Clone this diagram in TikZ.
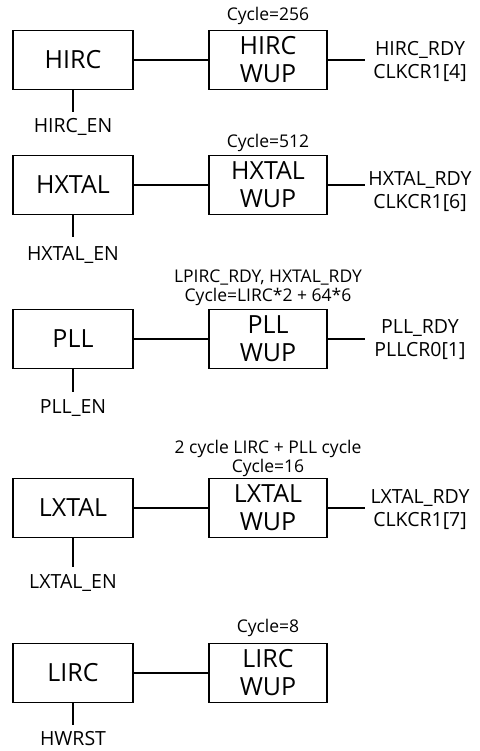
\documentclass[tikz,border=0pt]{standalone}
\usepackage{fontspec}
\setmainfont{Open Sans}
\usetikzlibrary{positioning}
\begin{document}
\begin{tikzpicture}[x=1pt,y=-1pt,
  every node/.style={inner sep=0pt},
  src/.style={draw,line width=1.4pt,minimum width=120pt,minimum height=59pt,
              font=\fontsize{25}{28}\selectfont},
  wup/.style={src,minimum width=118pt,align=center},
  lbl/.style={font=\fontsize{19.5}{23}\selectfont,align=center},
  cyc/.style={font=\fontsize{17.5}{19}\selectfont,align=center},
  wire/.style={line width=1.4pt},
]
\useasboundingbox (0,0) rectangle (479,751);
% HIRC row
\node[src] (hirc) at (73,60) {HIRC};
\node[wup] (hircw) at (268,60) {HIRC\\WUP};
\node[cyc] (hircc) at (268,16) {Cycle=256};
\coordinate (hircr) at (365,60);
\node[lbl] (hircrdy) at (420,61) {HIRC\_RDY\\CLKCR1[4]};
\coordinate (hirce) at (73,112);
\node[lbl] (hircen) at (73,127) {HIRC\_EN};
\draw[wire] (hirc) -- (hircw);
\draw[wire] (hircw) -- (hircr);
\draw[wire] (hirc) -- (hirce);
% HXTAL row
\node[src] (hxtal) at (73,185) {HXTAL};
\node[wup] (hxtalw) at (268,185) {HXTAL\\WUP};
\node[cyc] (hxtalc) at (268,143) {Cycle=512};
\coordinate (hxtalr) at (365,185);
\node[lbl] (hxtalrdy) at (420,192) {HXTAL\_RDY\\CLKCR1[6]};
\coordinate (hxtale) at (73,237);
\node[lbl] (hxtalen) at (73,255) {HXTAL\_EN};
\draw[wire] (hxtal) -- (hxtalw);
\draw[wire] (hxtalw) -- (hxtalr);
\draw[wire] (hxtal) -- (hxtale);
% PLL row
\node[src] (pll) at (73,339) {PLL};
\node[wup] (pllw) at (268,339) {PLL\\WUP};
\node[cyc] (pllc) at (268,288) {LPIRC\_RDY, HXTAL\_RDY\\Cycle=LIRC*2 + 64*6};
\coordinate (pllr) at (365,339);
\node[lbl] (pllrdy) at (420,340) {PLL\_RDY\\PLLCR0[1]};
\coordinate (plle) at (73,392);
\node[lbl] (pllen) at (73,408) {PLL\_EN};
\draw[wire] (pll) -- (pllw);
\draw[wire] (pllw) -- (pllr);
\draw[wire] (pll) -- (plle);
% LXTAL row
\node[src] (lxtal) at (73,508) {LXTAL};
\node[wup] (lxtalw) at (268,508) {LXTAL\\WUP};
\node[cyc] (lxtalc) at (268,458) {2 cycle LIRC + PLL cycle\\Cycle=16};
\coordinate (lxtalr) at (365,508);
\node[lbl] (lxtalrdy) at (420,510) {LXTAL\_RDY\\CLKCR1[7]};
\coordinate (lxtale) at (73,567);
\node[lbl] (lxtalen) at (73,583) {LXTAL\_EN};
\draw[wire] (lxtal) -- (lxtalw);
\draw[wire] (lxtalw) -- (lxtalr);
\draw[wire] (lxtal) -- (lxtale);
% LIRC row
\node[src] (lirc) at (73,673) {LIRC};
\node[wup] (lircw) at (268,673) {LIRC\\WUP};
\node[cyc] (lircc) at (268,628) {Cycle=8};
\coordinate (lirce) at (73,725);
\node[lbl] (hwrst) at (73,739) {HWRST};
\draw[wire] (lirc) -- (lircw);
\draw[wire] (lirc) -- (lirce);
\end{tikzpicture}
\end{document}
